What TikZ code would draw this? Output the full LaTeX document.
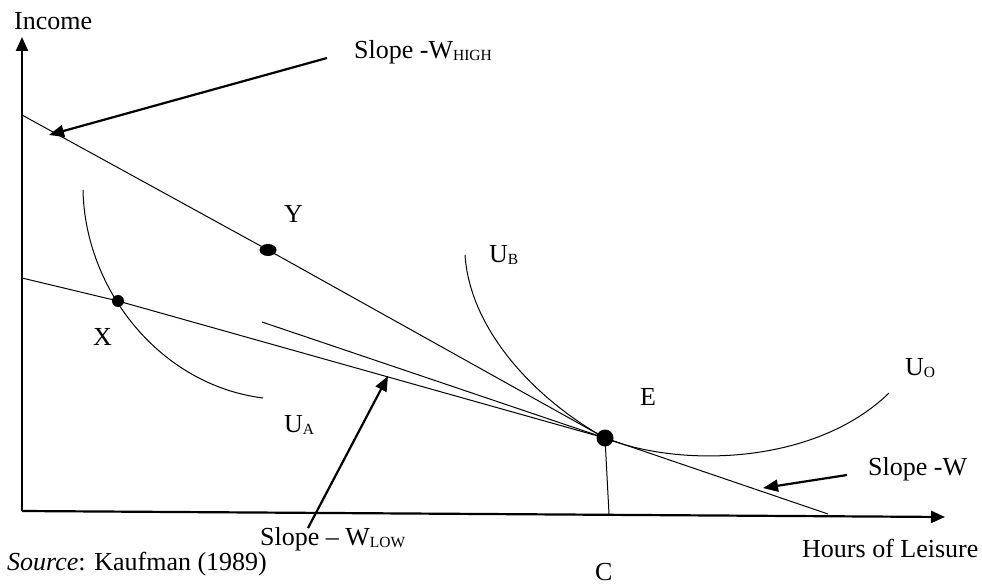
\documentclass[tikz,border=0pt]{standalone}
\usepackage{fontspec}
\setmainfont{Liberation Serif}
\usetikzlibrary{arrows.meta,shapes.geometric}
\newcommand{\lowsub}[1]{\raisebox{-2pt}{\fontsize{15.5}{16}\selectfont #1}}
\tikzset{
  axisline/.style={line width=2.2pt,-{Triangle[length=14pt,width=12pt]}},
  pointer/.style={line width=2.2pt,-{Triangle[length=15pt,width=12pt]}},
  thinline/.style={line width=1pt},
  lbl/.style={anchor=base west,inner sep=0pt,font=\fontsize{26}{30}\selectfont},
  dot/.style={circle,fill=black,inner sep=0pt,minimum size=#1},
  ydot/.style={ellipse,fill=black,inner sep=0pt,minimum width=17pt,minimum height=12pt}
}
\begin{document}
\begin{tikzpicture}[x=1pt,y=-1pt]
\useasboundingbox (0,0) rectangle (982,585);
% axes
\coordinate (O) at (22,511);
\coordinate (Ytop) at (22,37);
\coordinate (Xend) at (945,517);
\draw[axisline] (O) -- (Ytop);
\draw[axisline] (O) -- (Xend);
% points
\node[dot=17pt] (E) at (605,438) {};
\node[ydot] (Y) at (268,250) {};
\node[dot=12pt] (X) at (118,301) {};
\coordinate (Hstart) at (22,115);
\coordinate (Lstart) at (22,278);
\coordinate (Wstart) at (262,322);
\coordinate (Wend) at (828,514);
\coordinate (Cfoot) at (609,514);
% budget lines
\draw[thinline] (Hstart) -- (Y.center) -- (E.center);
\draw[thinline] (Lstart) -- (X.center) -- (E.center);
\draw[thinline] (Wstart) -- (E.center) -- (Wend);
\draw[thinline] (E.center) -- (Cfoot);
% indifference curves
\coordinate (UAs) at (83,190);
\coordinate (UAe) at (263,398);
\draw[thinline] (UAs) .. controls (85,290) and (160,385) .. (UAe);
\coordinate (UBs) at (465,255);
\draw[thinline] (UBs) .. controls (470,330) and (535,399) .. (E.center);
\coordinate (UOe) at (889,393);
\draw[thinline] (E.center) .. controls (680,468) and (815,465) .. (UOe);
% pointer arrows
\coordinate (PHs) at (327,58);
\coordinate (PHe) at (49,135);
\coordinate (PLs) at (308,528);
\coordinate (PLe) at (388,376);
\coordinate (PWs) at (847,475);
\coordinate (PWe) at (763,488);
\draw[pointer] (PHs) -- (PHe);
\draw[pointer] (PLs) -- (PLe);
\draw[pointer] (PWs) -- (PWe);
% labels
\node[lbl] (income) at (14,30) {Income};
\node[lbl] (slopeH) at (354,59) {Slope -W\lowsub{HIGH}};
\node[lbl] (ylab) at (284,223) {Y};
\node[lbl] (ub) at (489,262) {U\lowsub{B}};
\node[lbl] (xlab) at (93,345) {X};
\node[lbl] (ua) at (284,432) {U\lowsub{A}};
\node[lbl] (elab) at (640,405) {E};
\node[lbl] (uo) at (905,375) {U\lowsub{O}};
\node[lbl] (slopeW) at (868,475) {Slope -W};
\node[lbl] (hours) at (802,557) {Hours of Leisure};
\node[lbl] (clab) at (595,580) {C};
\node[lbl] (slopeL) at (260,545) {Slope -- W\lowsub{LOW}};
\node[lbl] (source) at (7,570) {\textit{Source}: Kaufman (1989)};
\end{tikzpicture}
\end{document}
